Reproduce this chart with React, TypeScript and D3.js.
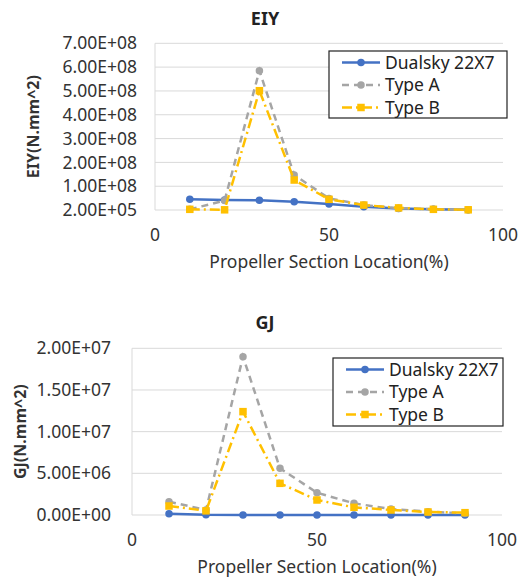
import React from "react";
import * as d3 from "d3";

const xPositions = [10, 20, 30, 40, 50, 60, 70, 80, 90];
const seriesNames = ["Dualsky 22X7", "Type A", "Type B"];

const eiyDualsky = [4.5e7, 4.2e7, 4.1e7, 3.5e7, 2.5e7, 1.4e7, 7e6, 3e6, 1e6];
const eiyTypeA = [3e6, 4.0e7, 5.85e8, 1.47e8, 4.9e7, 2.1e7, 8e6, 3e6, 1e6];
const eiyTypeB = [3e6, 1e6, 5.01e8, 1.26e8, 4.5e7, 2.1e7, 9e6, 3e6, 1e6];

const gjDualsky = [1.5e5, 2e4, 1e4, 1e4, 1e4, 1e4, 1e4, 1e4, 1e4];
const gjTypeA = [1.6e6, 6e5, 1.9e7, 5.6e6, 2.67e6, 1.4e6, 7.2e5, 4e5, 2e5];
const gjTypeB = [1.08e6, 5e5, 1.24e7, 3.8e6, 1.8e6, 9.2e5, 6e5, 3.6e5, 2.8e5];

const eiyTicks = [2e5, 1e8, 2e8, 3e8, 4e8, 5e8, 6e8, 7e8];
const gjTicks = [0, 5e6, 1e7, 1.5e7, 2e7];
const xTicks = [0, 50, 100];

const colors = ["#4472C4", "#A5A5A5", "#FFC000"];
const dashes = ["none", "7,5", "10,4,2,4"];
const FONT = "'Noto Sans', sans-serif";
const FS = 17.5;

function fmtExp(v: number) {
  const s = v.toExponential(2);
  const [m, e] = s.split("e");
  const sign = e[0] === "-" ? "-" : "+";
  const digits = e.replace(/[+-]/, "").padStart(2, "0");
  return `${m}E${sign}${digits}`;
}

type PanelProps = {
  title: string;
  yTitle: string;
  series: number[][];
  yTicks: number[];
  yDomain: [number, number];
  left: number;
  right: number;
  top: number;
  bottom: number;
  titleY: number;
  yTitleX: number;
  tickRight: number;
  xLabelY: number;
  xTitleY: number;
  legend: { x: number; y: number; w: number; h: number };
};

function Panel(p: PanelProps) {
  const x = d3.scaleLinear().domain([0, 100]).range([p.left, p.right]);
  const y = d3.scaleLinear().domain(p.yDomain).range([p.bottom, p.top]);
  const line = d3
    .line<number>()
    .x((_, i) => x(xPositions[i]))
    .y((d) => y(d));
  const midY = (p.top + p.bottom) / 2;
  return (
    <g>
      <text x={265} y={p.titleY} dy="0.35em" textAnchor="middle" fontSize={18} fontWeight="bold" fill="#222" fontFamily={FONT}>
        {p.title}
      </text>
      {p.yTicks.map((t, i) => (
        <g key={i}>
          <line x1={p.left} x2={p.right} y1={y(t)} y2={y(t)} stroke="#D9D9D9" strokeWidth={1} />
          <text x={p.tickRight} y={y(t)} dy="0.35em" textAnchor="end" fontSize={FS} fill="#333" fontFamily={FONT}>
            {fmtExp(t)}
          </text>
        </g>
      ))}
      <line x1={p.left} x2={p.left} y1={p.top} y2={p.bottom} stroke="#D9D9D9" strokeWidth={1} />
      {xTicks.map((t, i) => (
        <text key={i} x={x(t)} y={p.xLabelY} dy="0.35em" textAnchor="middle" fontSize={FS} fill="#333" fontFamily={FONT}>
          {t}
        </text>
      ))}
      <text x={x(50)} y={p.xTitleY} dy="0.35em" textAnchor="middle" fontSize={FS} fill="#333" fontFamily={FONT}>
        Propeller Section Location(%)
      </text>
      <text
        transform={`translate(${p.yTitleX},${midY}) rotate(-90)`}
        textAnchor="middle"
        dy="0.35em"
        fontSize={16}
        fontWeight="bold"
        fill="#333"
        fontFamily={FONT}
      >
        {p.yTitle}
      </text>
      {p.series.map((s, si) => (
        <g key={si}>
          <path d={line(s) || ""} fill="none" stroke={colors[si]} strokeWidth={2.5} strokeDasharray={dashes[si]} />
          {s.map((v, i) =>
            si === 2 ? (
              <rect key={i} x={x(xPositions[i]) - 3.75} y={y(v) - 3.75} width={7.5} height={7.5} fill={colors[si]} />
            ) : (
              <circle key={i} cx={x(xPositions[i])} cy={y(v)} r={3.75} fill={colors[si]} />
            )
          )}
        </g>
      ))}
      <rect x={p.legend.x} y={p.legend.y} width={p.legend.w} height={p.legend.h} fill="white" stroke="#222" strokeWidth={1.2} />
      {seriesNames.map((n, i) => {
        const ly = p.legend.y + 11.5 + i * 22.5;
        const lx = p.legend.x + 13;
        return (
          <g key={i}>
            <line x1={lx} x2={lx + 38} y1={ly} y2={ly} stroke={colors[i]} strokeWidth={2.5} strokeDasharray={dashes[i]} />
            {i === 2 ? (
              <rect x={lx + 19 - 3.75} y={ly - 3.75} width={7.5} height={7.5} fill={colors[i]} />
            ) : (
              <circle cx={lx + 19} cy={ly} r={3.75} fill={colors[i]} />
            )}
            <text x={lx + 43} y={ly} dy="0.35em" fontSize={FS} fill="#222" fontFamily={FONT}>
              {n}
            </text>
          </g>
        );
      })}
    </g>
  );
}

export default function App() {
  return (
    <svg
      width={522}
      height={578}
      style={{ position: "absolute", left: 0, top: 0, background: "white" }}
    >
      <rect width={522} height={578} fill="white" />
      <Panel
        title="EIY"
        yTitle="EIY(N.mm^2)"
        series={[eiyDualsky, eiyTypeA, eiyTypeB]}
        yTicks={eiyTicks}
        yDomain={[2e5, 7e8]}
        left={155}
        right={503}
        top={43.3}
        bottom={210}
        titleY={19}
        yTitleX={33}
        tickRight={137}
        xLabelY={235}
        xTitleY={262}
        legend={{ x: 329, y: 51, w: 178, h: 67 }}
      />
      <Panel
        title="GJ"
        yTitle="GJ(N.mm^2)"
        series={[gjDualsky, gjTypeA, gjTypeB]}
        yTicks={gjTicks}
        yDomain={[0, 2e7]}
        left={132}
        right={502}
        top={348.3}
        bottom={515}
        titleY={323}
        yTitleX={20}
        tickRight={111}
        xLabelY={540}
        xTitleY={567}
        legend={{ x: 333, y: 358, w: 170, h: 68 }}
      />
    </svg>
  );
}
